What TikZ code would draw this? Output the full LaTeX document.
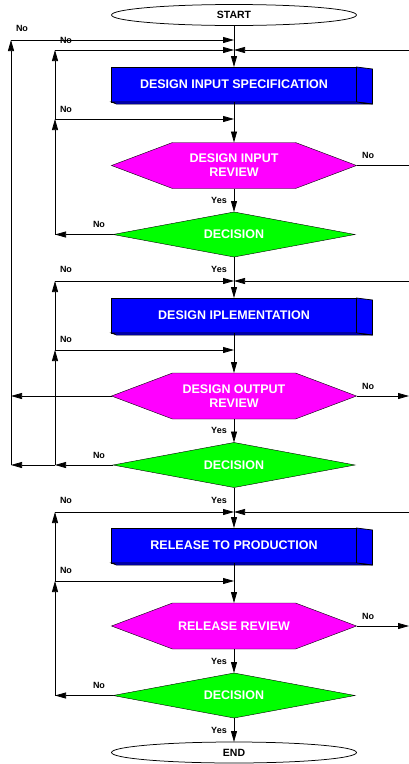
\documentclass[tikz,border=0pt]{standalone}
\usepackage{fontspec}
\setmainfont{Liberation Sans}
\usetikzlibrary{arrows.meta,shapes.geometric,backgrounds}
\definecolor{hexmag}{RGB}{255,0,255}
\definecolor{decgreen}{RGB}{0,255,0}
\definecolor{boxblue}{RGB}{0,0,255}
\begin{document}
\begin{tikzpicture}[x=1pt,y=-1pt,line width=0.75pt,
 arr/.style={-{Triangle[length=11pt,width=6pt]}},
 lbl/.style={font=\fontsize{9}{10}\selectfont\bfseries, inner sep=0pt},
 term/.style={ellipse, draw, fill=white, minimum width=245pt, minimum height=21pt, inner sep=0pt, outer sep=0pt, font=\fontsize{10.5}{12}\selectfont\bfseries},
 stepbox/.style={draw, fill=boxblue, minimum width=245pt, minimum height=35pt, inner sep=0pt, outer sep=0pt, text=white, font=\fontsize{12.5}{14}\selectfont\bfseries},
 hexnode/.style={minimum width=245pt, minimum height=46pt, inner sep=0pt, outer sep=0pt, text=white, align=center, font=\fontsize{12.5}{14}\selectfont\bfseries},
 decnode/.style={minimum width=242pt, minimum height=45pt, inner sep=0pt, outer sep=0pt, text=white, font=\fontsize{12.5}{14}\selectfont\bfseries},
 hexfill/.style={draw, fill=hexmag},
 decfill/.style={draw, fill=decgreen},
 sidefill/.style={draw, fill=boxblue}
]
\useasboundingbox (0,0) rectangle (409,764);

% ---- nodes ----
\node[term] (start) at (234,15) {START};
\node[stepbox] (b1) at (234,84.5) {DESIGN INPUT SPECIFICATION};
\node[hexnode] (h1) at (234,165.5) {DESIGN INPUT\\REVIEW};
\node[decnode] (d1) at (234,234.5) {DECISION};
\node[stepbox] (b2) at (234,315.5) {DESIGN IPLEMENTATION};
\node[hexnode] (h2) at (234,396) {DESIGN OUTPUT\\REVIEW};
\node[decnode] (d2) at (234,465) {DECISION};
\node[stepbox] (b3) at (234,545.5) {RELEASE TO PRODUCTION};
\node[hexnode] (h3) at (234,626) {RELEASE REVIEW};
\node[decnode] (d3) at (234,695.5) {DECISION};
\node[term] (end) at (234,752.5) {END};

% ---- shapes ----
\begin{scope}[on background layer]
\foreach \h in {h1,h2,h3}{
  \draw[hexfill] (\h.west) -- ([xshift=61pt]\h.north west) -- ([xshift=-61pt]\h.north east) -- (\h.east)
     -- ([xshift=-61pt]\h.south east) -- ([xshift=61pt]\h.south west) -- cycle;
}
\foreach \d in {d1,d2,d3}{
  \draw[decfill] (\d.west) -- (\d.north) -- (\d.east) -- (\d.south) -- cycle;
}
\end{scope}
\foreach \b in {b1,b2,b3}{
  \draw[sidefill] (\b.north east) -- ++(16,2) -- ++(0,35) -- (\b.south east) -- cycle;
  \draw[sidefill] (\b.south west) -- (\b.south east) -- ++(16,2) -- ++(-256,0) -- cycle;
}

% ---- coordinates ----
\coordinate (tL1) at (11,40);   \coordinate (c40) at (234,40);
\coordinate (tL2) at (55,50);   \coordinate (c50) at (234,50);   \coordinate (r50) at (409,50);
\coordinate (l119) at (55,119); \coordinate (c119) at (234,119);
\coordinate (r165) at (409,165.5);
\coordinate (l235) at (55,234.5);
\coordinate (l281) at (55,281); \coordinate (c281) at (234,281); \coordinate (r281) at (409,281);
\coordinate (l350) at (55,350); \coordinate (c350) at (234,350);
\coordinate (ll396) at (11,396); \coordinate (r396) at (409,396);
\coordinate (l465) at (55,465); \coordinate (ll465) at (11,465);
\coordinate (l512) at (55,512); \coordinate (c512) at (234,512); \coordinate (r512) at (409,512);
\coordinate (l581) at (55,581); \coordinate (c581) at (234,581);
\coordinate (r626) at (409,626);
\coordinate (l696) at (55,695.5);

% ---- main flow ----
\draw[arr] (start) -- (b1);
\draw[arr] (b1) -- (h1);
\draw[arr] (h1) -- (d1);
\draw[arr] (d1) -- (b2);
\draw[arr] (b2) -- (h2);
\draw[arr] (h2) -- (d2);
\draw[arr] (d2) -- (b3);
\draw[arr] (b3) -- (h3);
\draw[arr] (h3) -- (d3);
\draw[arr] (d3) -- (end);

% ---- feedback loops, section 1 ----
\draw[arr] (tL1) -- (c40);
\draw[arr] (tL2) -- (c50);
\draw[arr] (r50) -- (c50);
\draw[arr] (l119) -- (c119);
\draw (h1.east) -- (r165);
\draw[arr] (d1.west) -- (l235);
\draw[arr] (l235) -- (l119);
\draw[arr] (l119) -- (tL2);

% ---- section 2 ----
\draw[arr] (l281) -- (c281);
\draw[arr] (r281) -- (c281);
\draw[arr] (l350) -- (c350);
\draw[arr] (h2.west) -- (ll396);
\draw[arr] (h2.east) -- (r396);
\draw[arr] (d2.west) -- (l465);
\draw[arr] (l465) -- (ll465);
\draw[arr] (ll465) -- (tL1);
\draw[arr] (l465) -- (l350);
\draw[arr] (l350) -- (l281);

% ---- section 3 ----
\draw[arr] (l512) -- (c512);
\draw[arr] (r512) -- (c512);
\draw[arr] (l581) -- (c581);
\draw[arr] (h3.east) -- (r626);
\draw[arr] (d3.west) -- (l696);
\draw[arr] (l696) -- (l581);
\draw[arr] (l581) -- (l512);

% ---- labels ----
\node[lbl] (n0) at (22,28) {No};
\node[lbl] (n1) at (66,40) {No};
\node[lbl] (n2) at (66,109) {No};
\node[lbl] (n3) at (368,155) {No};
\node[lbl] (y1) at (219,200) {Yes};
\node[lbl] (n4) at (99,224) {No};
\node[lbl] (n5) at (66,269) {No};
\node[lbl] (y2) at (219,269) {Yes};
\node[lbl] (n6) at (66,339) {No};
\node[lbl] (n7) at (368,386) {No};
\node[lbl] (y3) at (219,430) {Yes};
\node[lbl] (n8) at (99,455) {No};
\node[lbl] (n9) at (66,500) {No};
\node[lbl] (y4) at (219,500) {Yes};
\node[lbl] (n10) at (66,570) {No};
\node[lbl] (n11) at (368,616) {No};
\node[lbl] (y5) at (219,661) {Yes};
\node[lbl] (n12) at (99,685) {No};
\node[lbl] (y6) at (219,730) {Yes};
\end{tikzpicture}
\end{document}
